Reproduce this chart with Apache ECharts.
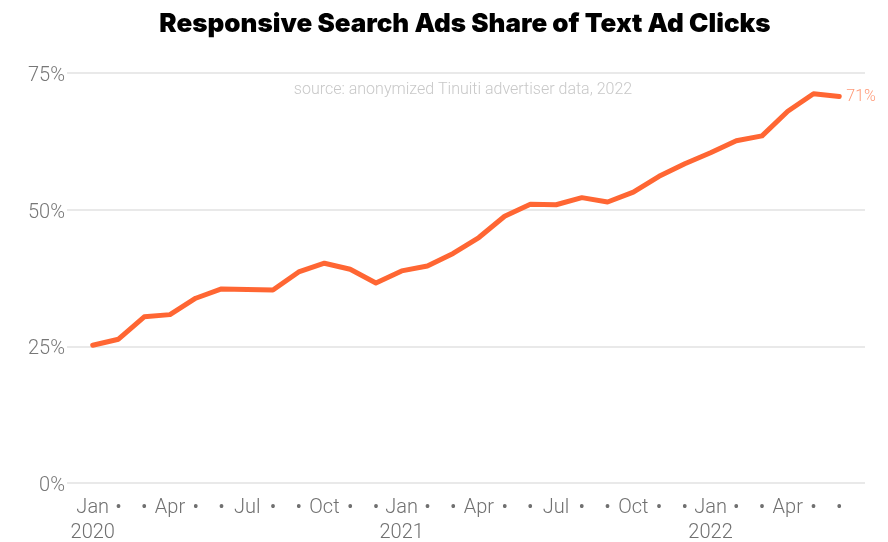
<!DOCTYPE html>
<html>
<head>
<meta charset="utf-8">
<script src="https://cdn.jsdelivr.net/npm/echarts@6/dist/echarts.min.js"></script>
<style>
  html, body { margin: 0; padding: 0; background: #fff; }
  #chart { width: 888px; height: 542px; }
</style>
</head>
<body>
<div id="chart"></div>
<script>
// Monthly tick labels, Jan 2020 – Jun 2022 (quarter months named, others dotted)
const monthLabels = [
  'Jan\n2020', '•', '•', 'Apr', '•', '•', 'Jul', '•', '•', 'Oct', '•', '•',
  'Jan\n2021', '•', '•', 'Apr', '•', '•', 'Jul', '•', '•', 'Oct', '•', '•',
  'Jan\n2022', '•', '•', 'Apr', '•', '•'
];

// RSA share of text ad clicks (%), one value per month
const shareValues = [
  25.2, 26.3, 30.4, 30.8, 33.8, 35.5, 35.4, 35.3, 38.6, 40.2, 39.1, 36.6,
  38.8, 39.7, 42.0, 44.9, 48.8, 51.0, 50.9, 52.2, 51.4, 53.2, 56.1, 58.4,
  60.4, 62.6, 63.5, 68.0, 71.2, 70.7
];

const yTicks = [0, 25, 50, 75];

const chart = echarts.init(document.getElementById('chart'), null, { renderer: 'canvas' });

const lineData = shareValues.map((v, i) => [i, v]);

chart.setOption({
  backgroundColor: '#ffffff',
  animation: false,
  title: [
    {
      text: 'Responsive Search Ads Share of Text Ad Clicks',
      left: 460,
      textAlign: 'center',
      top: 6,
      textStyle: {
        fontFamily: 'Inter',
        fontWeight: 900,
        fontSize: 26,
        color: '#000000'
      }
    },
    {
      text: 'source: anonymized Tinuiti advertiser data, 2022',
      left: 458,
      textAlign: 'center',
      top: 77,
      textStyle: {
        fontFamily: 'Roboto',
        fontWeight: 300,
        fontSize: 16,
        color: '#c8c8c8'
      }
    }
  ],
  grid: {
    left: 67, right: 23, top: 73, bottom: 59,
    containLabel: false,
    outerBoundsMode: 'none'
  },
  xAxis: {
    type: 'value',
    min: -1,
    max: 30,
    interval: 1,
    axisLine: { show: false },
    axisTick: { show: false },
    splitLine: { show: false },
    axisLabel: {
      margin: 12,
      fontFamily: 'Roboto',
      fontWeight: 300,
      fontSize: 20,
      lineHeight: 25,
      color: '#707070',
      align: 'center',
      showMinLabel: true,
      showMaxLabel: true,
      formatter: v => (v >= 0 && v < monthLabels.length) ? monthLabels[v] : ''
    }
  },
  yAxis: {
    type: 'value',
    min: yTicks[0],
    max: yTicks[yTicks.length - 1],
    interval: 25,
    axisLine: { show: false },
    axisTick: { show: false },
    splitLine: { lineStyle: { color: '#e2e2e2', width: 1.5 } },
    axisLabel: {
      margin: 2,
      verticalAlign: 'top',
      lineHeight: 6,
      fontFamily: 'Roboto',
      fontWeight: 300,
      fontSize: 20,
      color: '#777777',
      formatter: '{value}%'
    }
  },
  series: [{
    type: 'line',
    data: lineData,
    showSymbol: false,
    lineStyle: { color: '#ff6633', width: 5, join: 'round', cap: 'round' },
    itemStyle: { color: '#ff6633' },
    endLabel: {
      show: true,
      distance: 7,
      fontFamily: 'Roboto',
      fontWeight: 300,
      fontSize: 16,
      color: '#ff9a78',
      formatter: p => Math.round(p.value[1]) + '%'
    }
  }]
});
</script>
</body>
</html>
